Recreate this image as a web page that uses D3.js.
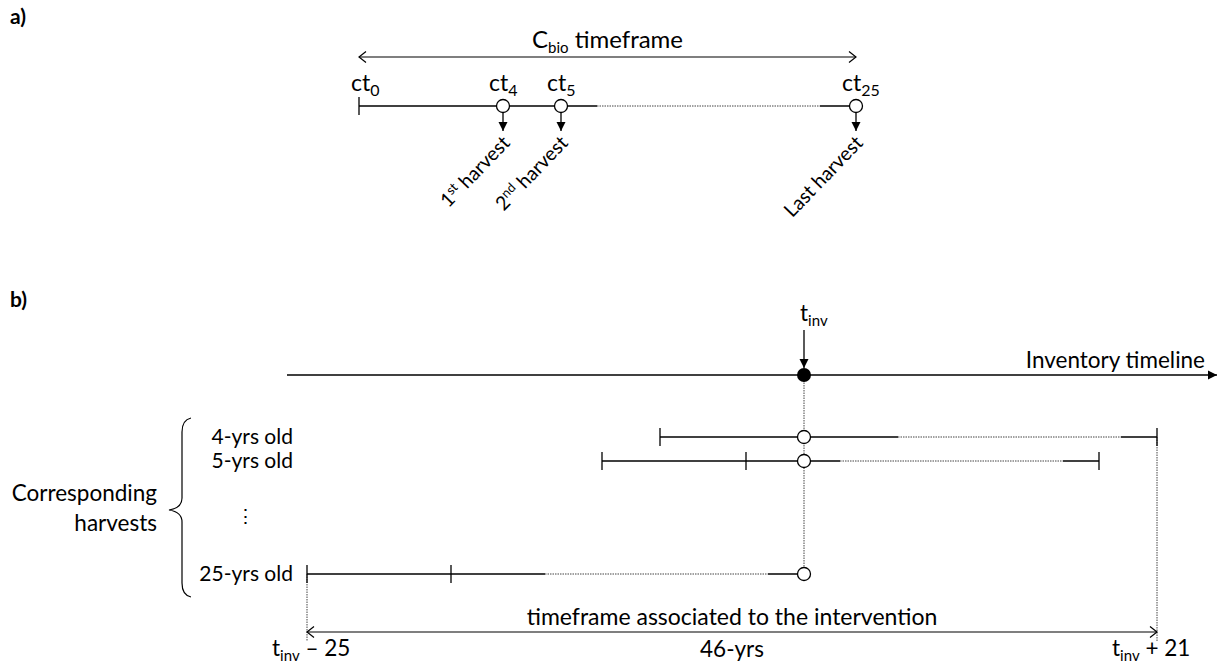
<!DOCTYPE html>
<html>
<head>
<meta charset="utf-8">
<script src="https://cdn.jsdelivr.net/npm/d3@7.9.0/dist/d3.min.js"></script>
<style>
  body { margin: 0; background: #fff; }
  svg { display: block; }
  text { font-family: Lato, "Open Sans", sans-serif; fill: #000; }
</style>
</head>
<body>
<div id="chart"></div>
<script>
// panel a : one rotation of the coppice, in years since planting
const cropYears = [0, 4, 5, 25];
const cropSubs = ["0", "4", "5", "25"];
const harvestYears = [4, 5, 25];
const harvestLabels = [["1", "st", " harvest"], ["2", "nd", " harvest"], ["Last harvest"]];

// panel b : harvests that happen in the inventory year
const harvestAges = [4, 5, 25];
const ageLabels = ["4-yrs old", "5-yrs old", "25-yrs old"];
const rotationLength = 25;
const firstHarvest = 4;
const timeframeEnds = [-25, 21];
const timeframeLabel = "46-yrs";

// the drawing is schematic: years 6..24 are squeezed into a dotted stretch
const breakYears = [6, 24];
const segments = [
  { from: 0, to: breakYears[0], dotted: false },
  { from: breakYears[0], to: breakYears[1], dotted: true },
  { from: breakYears[1], to: rotationLength, dotted: false }
];

const W = 1220, H = 664;
const FS = 22.5;   // body text size
const SUB = 15;    // subscript size
const svg = d3.select("#chart").append("svg")
  .attr("width", W).attr("height", H)
  .style("background", "#fff");

const defs = svg.append("defs");
defs.append("marker")
  .attr("id", "open").attr("viewBox", "-10 -7 12 14")
  .attr("refX", 0).attr("refY", 0)
  .attr("markerWidth", 12).attr("markerHeight", 14)
  .attr("markerUnits", "userSpaceOnUse")
  .attr("orient", "auto-start-reverse")
  .append("path").attr("d", "M-7,-5.5L0,0L-7,5.5")
  .attr("fill", "none").attr("stroke", "#000").attr("stroke-width", 1.2);
defs.append("marker")
  .attr("id", "solid").attr("viewBox", "-10 -6 12 12")
  .attr("refX", 0).attr("refY", 0)
  .attr("markerWidth", 12).attr("markerHeight", 12)
  .attr("markerUnits", "userSpaceOnUse")
  .attr("orient", "auto")
  .append("path").attr("d", "M-9,-4.5L0,0L-9,4.5Z").attr("fill", "#000");

// rotation year -> horizontal offset
const rot = d3.scaleLinear()
  .domain([0, firstHarvest, 5, breakYears[0], breakYears[1], rotationLength])
  .range([0, 144, 202, 238, 461, 497]);

const lineW = 1.3;
const tickH = 9;
const circleR = 6.5;

function drawRotation(g, y, x, ticks) {
  g.selectAll(null).data(segments).join("line")
    .attr("x1", d => x(d.from)).attr("x2", d => x(d.to))
    .attr("y1", y).attr("y2", y)
    .attr("stroke", d => d.dotted ? "#444" : "#000")
    .attr("stroke-width", d => d.dotted ? 1 : lineW)
    .attr("stroke-dasharray", d => d.dotted ? "1.5,1" : null);
  g.selectAll(null).data(ticks).join("line")
    .attr("x1", d => x(d)).attr("x2", d => x(d))
    .attr("y1", y - tickH).attr("y2", y + tickH)
    .attr("stroke", "#000").attr("stroke-width", lineW);
}

function subText(sel, parts, subSize, shift) {
  sel.append("tspan").text(parts[0]);
  sel.append("tspan").attr("dy", shift).attr("font-size", subSize).text(parts[1]);
}

// ---------- panel a ----------
svg.append("text").attr("x", 10).attr("y", 24)
  .attr("font-size", 21).attr("font-weight", "bold").text("a)");

const a0 = 359, aY = 106;
const xa = d => a0 + rot(d);
const ga = svg.append("g");

drawRotation(ga, aY, xa, [0]);

ga.append("line")
  .attr("x1", xa(0)).attr("x2", xa(rotationLength))
  .attr("y1", 57).attr("y2", 57)
  .attr("stroke", "#000").attr("stroke-width", 1.2)
  .attr("marker-start", "url(#open)").attr("marker-end", "url(#open)");

const cbio = ga.append("text")
  .attr("x", (xa(0) + xa(rotationLength)) / 2).attr("y", 48)
  .attr("text-anchor", "middle").attr("font-size", 24);
cbio.append("tspan").text("C");
cbio.append("tspan").attr("dy", 5).attr("font-size", SUB).text("bio");
cbio.append("tspan").attr("dy", -5).text(" timeframe");

ga.selectAll(null).data(harvestYears).join("line")
  .attr("x1", d => xa(d)).attr("x2", d => xa(d))
  .attr("y1", aY + circleR).attr("y2", aY + 25)
  .attr("stroke", "#000").attr("stroke-width", lineW)
  .attr("marker-end", "url(#solid)");

ga.selectAll(null).data(harvestYears).join("circle")
  .attr("cx", d => xa(d)).attr("cy", aY).attr("r", circleR)
  .attr("fill", "#fff").attr("stroke", "#000").attr("stroke-width", lineW);

ga.selectAll(null).data(cropYears).join("text")
  .attr("x", (d, i) => xa(d) - (i === 0 ? 8 : 14)).attr("y", aY - 15)
  .attr("font-size", 23)
  .each(function (d, i) { subText(d3.select(this), ["ct", cropSubs[i]], 16, 5); });

ga.selectAll(null).data(harvestYears).join("text")
  .attr("transform", d => `translate(${xa(d) + 8},${aY + 38}) rotate(-46)`)
  .attr("text-anchor", "end").attr("font-size", 19.5)
  .each(function (d, i) {
    const parts = harvestLabels[i];
    const t = d3.select(this);
    if (parts.length === 1) { t.text(parts[0]); return; }
    t.append("tspan").text(parts[0]);
    t.append("tspan").attr("dy", -7).attr("font-size", 13).text(parts[1]);
    t.append("tspan").attr("dy", 7).text(parts[2]);
  });

// ---------- panel b ----------
svg.append("text").attr("x", 10).attr("y", 307)
  .attr("font-size", 21).attr("font-weight", "bold").text("b)");

const tInvX = 804, invY = 375;
const rowY = d3.scaleOrdinal().domain(harvestAges).range([437, 461, 574]);
const rowStart = age => tInvX - rot(age);
const gb = svg.append("g");

// inventory timeline
gb.append("line")
  .attr("x1", 287).attr("x2", 1217).attr("y1", invY).attr("y2", invY)
  .attr("stroke", "#000").attr("stroke-width", lineW)
  .attr("marker-end", "url(#solid)");
gb.append("text").attr("x", 1205).attr("y", invY - 7)
  .attr("text-anchor", "end").attr("font-size", FS).text("Inventory timeline");

gb.append("line")
  .attr("x1", tInvX).attr("x2", tInvX).attr("y1", 330).attr("y2", invY - 7)
  .attr("stroke", "#000").attr("stroke-width", lineW)
  .attr("marker-end", "url(#solid)");
const tinv = gb.append("text").attr("x", tInvX - 4).attr("y", 321).attr("font-size", FS);
subText(tinv, ["t", "inv"], SUB, 5);

// dotted guides
const leftX = d3.min(harvestAges, a => rowStart(a));
const rightX = d3.max(harvestAges, a => rowStart(a) + rot(rotationLength));
const arrowY = 632;
const guides = [
  { x: tInvX, y1: invY, y2: rowY(d3.max(harvestAges)) },
  { x: leftX, y1: rowY(d3.max(harvestAges)), y2: arrowY + 9 },
  { x: rightX, y1: rowY(d3.min(harvestAges)), y2: arrowY + 9 }
];
gb.selectAll(null).data(guides).join("line")
  .attr("x1", d => d.x).attr("x2", d => d.x)
  .attr("y1", d => d.y1).attr("y2", d => d.y2)
  .attr("stroke", "#444").attr("stroke-width", 1)
  .attr("stroke-dasharray", "1.5,1");

gb.append("circle").attr("cx", tInvX).attr("cy", invY).attr("r", 7).attr("fill", "#000");

// one row per harvest age
harvestAges.forEach((age, i) => {
  const x0 = rowStart(age);
  const xr = d => x0 + rot(d);
  const y = rowY(age);
  const g = gb.append("g");
  const ticks = [0];
  if (age > firstHarvest) ticks.push(firstHarvest);
  if (age < rotationLength) ticks.push(rotationLength);
  drawRotation(g, y, xr, ticks);
  g.append("circle").attr("cx", xr(age)).attr("cy", y).attr("r", circleR)
    .attr("fill", "#fff").attr("stroke", "#000").attr("stroke-width", lineW);
  gb.append("text").attr("x", 293).attr("y", y + 7)
    .attr("text-anchor", "end").attr("font-size", 21).text(ageLabels[i]);
});

gb.append("text").attr("x", 245).attr("y", 523)
  .attr("text-anchor", "middle").attr("font-size", 19).text("\u22EE");

// brace
gb.append("path")
  .attr("d", "M191,418 Q182,420 182,432 L182,498 Q182,508 169,510 Q182,512 182,522 L182,583 Q182,595 191,597")
  .attr("fill", "none").attr("stroke", "#000").attr("stroke-width", 1.2);
gb.append("text").attr("x", 157).attr("y", 501)
  .attr("text-anchor", "end").attr("font-size", FS).text("Corresponding");
gb.append("text").attr("x", 157).attr("y", 531)
  .attr("text-anchor", "end").attr("font-size", FS).text("harvests");

// intervention timeframe
gb.append("line")
  .attr("x1", leftX).attr("x2", rightX).attr("y1", arrowY).attr("y2", arrowY)
  .attr("stroke", "#000").attr("stroke-width", 1.2)
  .attr("marker-start", "url(#open)").attr("marker-end", "url(#open)");
gb.append("text").attr("x", (leftX + rightX) / 2).attr("y", arrowY - 7)
  .attr("text-anchor", "middle").attr("font-size", 23)
  .text("timeframe associated to the intervention");
gb.append("text").attr("x", (leftX + rightX) / 2).attr("y", 657)
  .attr("text-anchor", "middle").attr("font-size", FS).text(timeframeLabel);

const endLabels = [
  { x: leftX - 35, t: timeframeEnds[0] },
  { x: rightX - 45, t: timeframeEnds[1] }
];
endLabels.forEach(d => {
  const t = gb.append("text").attr("x", d.x).attr("y", 656).attr("font-size", FS);
  t.append("tspan").text("t");
  t.append("tspan").attr("dy", 5).attr("font-size", SUB).text("inv");
  t.append("tspan").attr("dy", -5)
    .text(d.t < 0 ? ` \u2013 ${Math.abs(d.t)}` : ` + ${d.t}`);
});
</script>
</body>
</html>
